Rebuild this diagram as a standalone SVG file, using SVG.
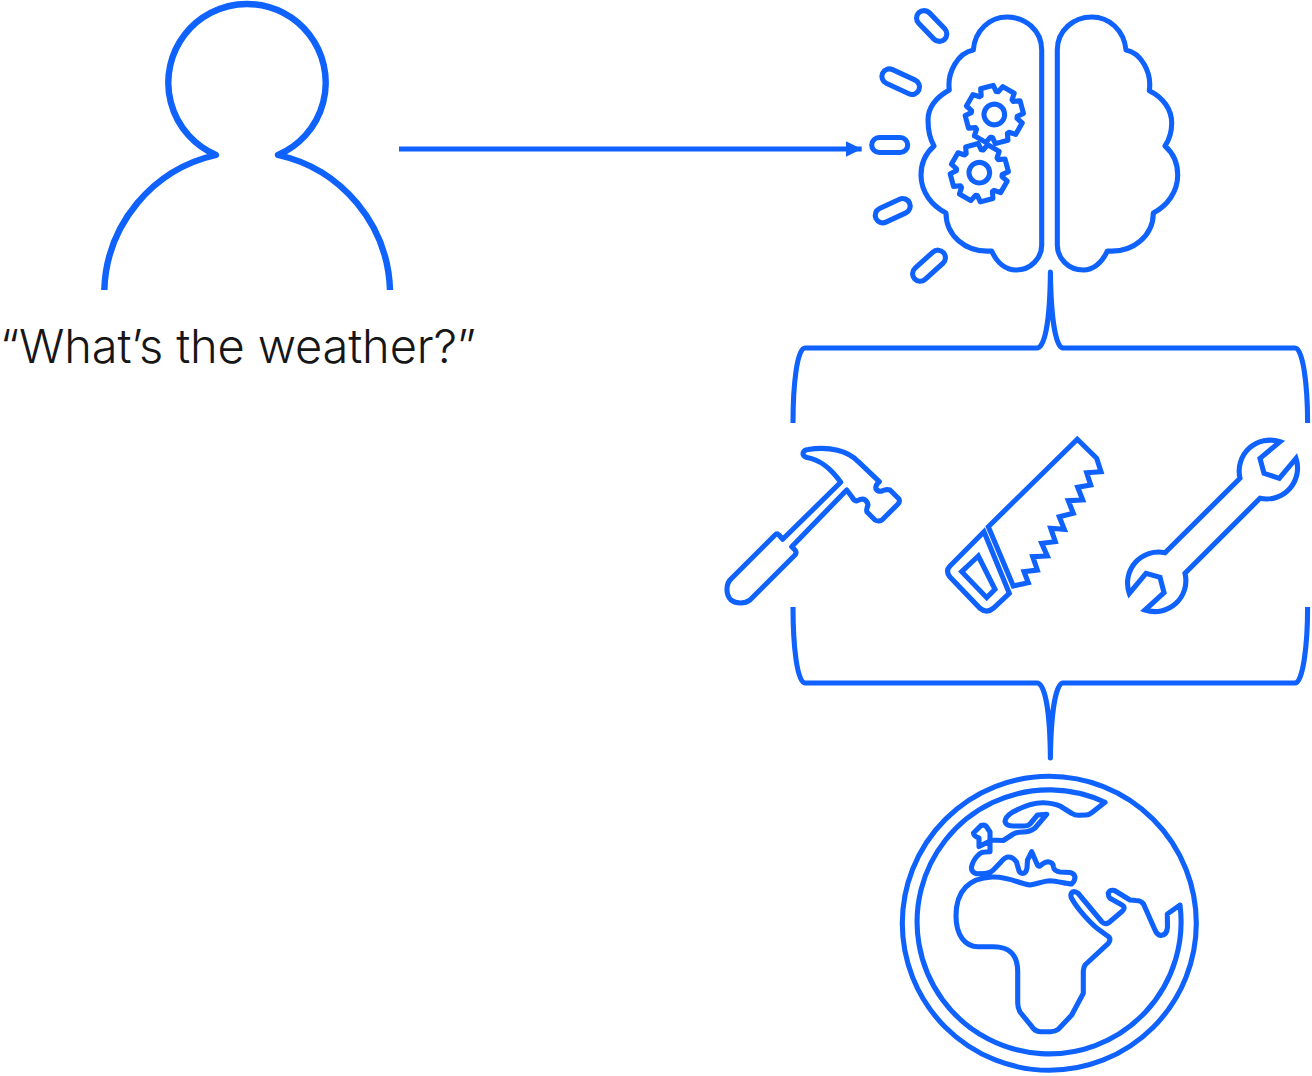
<svg xmlns="http://www.w3.org/2000/svg" width="1312" height="1076" viewBox="0 0 1312 1076">
<style>
.s{fill:none;stroke:#0f62fe;stroke-width:5.1;stroke-linejoin:miter;stroke-miterlimit:6}
.r{stroke-linejoin:round}
.t{font-family:"Inter","Liberation Sans",sans-serif;font-weight:300;font-size:47px;fill:#161616}
</style>
<defs>
<marker id="ah" markerUnits="userSpaceOnUse" markerWidth="17" markerHeight="18" refX="16" refY="9" orient="auto"><path d="M0,1 L16,9 L0,17 Z" fill="#0f62fe"/></marker>
<g id="gear">
<path class="s r" d="M28.4,-6.6 L28.4,6.6 21.6,8 20.8,9.8 24.7,15.5 15.5,24.7 9.8,20.8 8,21.6 6.6,28.4 -6.6,28.4 -8,21.6 -9.8,20.8 -15.5,24.7 -24.7,15.5 -20.8,9.8 -21.6,8 -28.4,6.6 -28.4,-6.6 -21.6,-8 -20.8,-9.8 -24.7,-15.5 -15.5,-24.7 -9.8,-20.8 -8,-21.6 -6.6,-28.4 6.6,-28.4 8,-21.6 9.8,-20.8 15.5,-24.7 24.7,-15.5 20.8,-9.8 21.6,-8 Z"/>
<circle class="s" r="10.3"/>
</g>
</defs>
<g id="connectors">
<path d="M399,149 L861.7,149" fill="none" stroke="#0f62fe" stroke-width="4.8" marker-end="url(#ah)"/>
<path class="s r" d="M793,423 C793,385 797,348 805,348 L1037,348 C1045,348 1050,320 1050.4,272 C1051,320 1056,348 1063,348 L1295,348 C1303,348 1307.6,385 1307.6,423"/>
<path class="s r" d="M793,607 C793,645 797,683 805,683 L1037,683 C1045,683 1050,711 1050.4,758 C1051,711 1056,683 1063,683 L1295,683 C1303,683 1307.6,645 1307.6,607"/>
</g>
<g id="person">
<path class="s r" style="stroke-width:6.4" d="M104.3,290 A143,143 0 0 1 216,155 A78.7,78.7 0 1 1 278,155 A143,143 0 0 1 390,290"/>
<text class="t" x="0" y="363" textLength="476" lengthAdjust="spacing">“What’s the weather?”</text>
</g>
<g id="brain">
<path class="s r" d="M1041.7,50 C1041.7,30 1025,17 1007,17 C990,17 975,30 973.3,50 C958,53 947,72 949.3,90 C935,98 928,108 928,120 C928,130 930,139 934,146 C926,153 921,163 921,175 C921,192 932,206 946,213 C946,235 965,253 991.7,251 C997,263 1006,270 1016,270 C1031,270 1041.7,258 1041.7,245 Z"/>
<path class="s r" d="M1057.3,50 C1057.3,30 1074,17 1091.7,17 C1109,17 1124,30 1126,50 C1141,53 1152,72 1149.3,90.7 C1164,98 1171.7,110 1171.7,123 C1171.7,132 1169,140 1165,146 C1173,153 1177.7,163 1177.7,175 C1177.7,192 1167,206 1153.3,213 C1153.3,235 1134,253 1107.3,251 C1102,263 1093,270 1083.3,270 C1068,270 1057.3,258 1057.3,245 Z"/>
<use href="#gear" transform="translate(994.3,114.5) rotate(30)"/>
<use href="#gear" transform="translate(979.3,172.7) rotate(30)"/>
<rect class="s" x="-18.5" y="-7.5" width="37" height="15" rx="7.5" transform="translate(931.7,26) rotate(46)"/>
<rect class="s" x="-20" y="-7.5" width="40" height="15" rx="7.5" transform="translate(900.7,81.7) rotate(25)"/>
<rect class="s" x="-18" y="-7.5" width="36" height="15" rx="7.5" transform="translate(889.7,145)"/>
<rect class="s" x="-18.5" y="-7.5" width="37" height="15" rx="7.5" transform="translate(892.7,210.7) rotate(-25)"/>
<rect class="s" x="-19.5" y="-7.5" width="39" height="15" rx="7.5" transform="translate(929,265.7) rotate(-42)"/>
</g>
<g id="hammer">
<path class="s r" d="M840.7,482.3 C830,467 820,460 807,457.5 Q802,456 803.3,452.5 Q804,450 808,449.5 C830,446 848,451 858.3,461.7 L879.3,481.7 Q875,485 876,489 Q878,492 882,491 Q886,489 890,490 L899,499 Q900,502 898,504 L882,520 Q878,522 875,520 L867,512 Q866,510 868,505 Q867,500 863,499 Q860,499 857,501 Q854,501 852,497 L846.7,490 L791.7,546.7 L795,550 Q797,553 795,555 L750,600 C745,604 736,604 731,600 C726,595 725,584 731.7,578.3 L775,535 Q777,533 779,535 L782.7,539.3 L840.7,482.3 Z"/>
</g>
<g id="saw">
<path class="s" d="M988.3,526.7 L1077.3,439.3 L1096.7,458.3 L1101,471.7 L1086.7,472.7 L1090.7,485 L1077.7,487.3 L1082.7,500 L1068.3,500.7 L1073.3,513.3 L1059.3,516.7 L1064.3,529.3 L1050.7,528.3 L1055.3,541.7 L1041.7,543.3 L1047.3,556 L1032.7,556.7 L1037.3,570 L1024,571.7 L1028.3,582.7 L1013.3,586 Z"/>
<path class="s" d="M984,531.7 L950,566 Q945,571 950,577 L980,608.3 Q986.7,614 993.3,608.3 L1009.3,593.3 Z"/>
<path class="s" d="M978.3,556 L961.7,571.7 L986.7,597.7 L995,589.3 Z"/>
</g>
<g id="wrench">
<path class="s" d="M1280,441.7 A31,31 0 0 0 1240,478.3 L1165,552.7 A31,31 0 0 0 1129.3,593.3 L1146,573.3 L1160,577.3 L1164,592.7 L1145,610 A31,31 0 0 0 1185,573.3 L1260,498.3 A31,31 0 0 0 1296,458.3 L1279.3,478.3 L1264,473.3 L1260,458.3 Z"/>
</g>
<g id="globe">
<circle class="s" cx="1049.3" cy="923.3" r="147"/>
<path class="s r" d="M1105,802.3 A132,132 0 1 0 1180,905 L1167.3,914 L1167.5,927 Q1167,935 1161,935.5 Q1157,935 1155,930 L1143.5,904 Q1141,900.5 1136,900.5 L1130,900 L1114.5,890.5 Q1110,889.5 1108.3,893 Q1108,896 1110,898.3 L1122,905 Q1126,907.5 1122.5,911 L1109,922.5 Q1105,925 1102,922 L1078.3,893.5 Q1074,890 1071.5,893 Q1070,896 1072,899 C1077,908 1090,923 1098,929 L1109,937 Q1111,940 1108.3,943.3 L1085.5,964.5 Q1083.3,967 1083.3,971 L1083.3,993.3 L1071.7,1015 L1058.3,1029.3 Q1055,1031.7 1051,1031.7 L1041,1031.7 Q1036,1031.7 1033.3,1028.3 L1020,1012 Q1017.7,1008 1017.7,1003 L1017.7,972 C1017.7,955 1010,946.7 993,946.7 L978,946.7 C965,946.7 956,935 956,916 C956,890 970,878 992,877 C1008,876 1020,884 1030,885 C1037,884 1043,881 1050,880.7 C1058,881 1066,884 1071.5,884 Q1075,881 1075,877 Q1074,873 1070,872.5 L1060,872 Q1054,871 1053.5,867 Q1053,862 1048,861.7 Q1044,862 1040,866 Q1038,867 1037,864 L1031.7,851.7 L1027.5,860 L1027,868 Q1026,873.5 1022.5,873.5 Q1019,873 1018.5,869 L1016.5,862 Q1013,857 1008.5,857 Q1005,857 1001,862 L993.3,870 Q990,873.5 985,873.5 L976.7,873.8 Q971,872 971.5,867 Q973,860 978.3,855 Q981,852 985,852 L990,851.7 L990,841 L979,846.5 L979,838 Q973.5,836 973.5,833 L981,825.5 Q984,824.5 986,826 L990,832 L990,840 L1003.3,840.5 L1013.3,834 Q1017,832 1023,832 Q1030,832 1035,828 L1046.7,814.3 L1037.5,815 L1030,824 Q1028,826 1024,826 L1013,826 Q1006,826 1005,821.5 Q1005,817 1013.3,811.7 C1022,807 1034,802.5 1043.3,802.7 C1050,803 1056,804 1060,806 L1072,813.5 Q1075,815.5 1079,815.3 L1086,815 Q1089,815 1092,812.5 Z"/>
</g>
</svg>
